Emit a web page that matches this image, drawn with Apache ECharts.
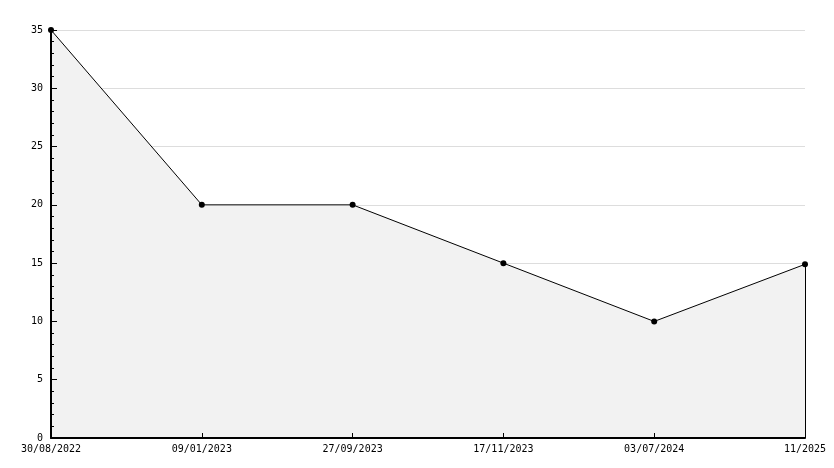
<!DOCTYPE html>
<html><head><meta charset="utf-8">
<script src="https://cdn.jsdelivr.net/npm/echarts@6/dist/echarts.min.js"></script>
<style>html,body{margin:0;padding:0;background:#fff}#c{width:834px;height:468px}</style>
</head><body><div id="c"></div>
<script>
const categories = ["30/08/2022","09/01/2023","27/09/2023","17/11/2023","03/07/2024","11/2025"];
const values = [35, 20, 20, 15, 10, 14.9];
const yTicks = {min: 0, max: 35, interval: 5};

const chart = echarts.init(document.getElementById('c'));
const font = 'DejaVu Sans Mono';
const last = categories.length - 1;
chart.setOption({
  animation: false,
  grid: {left: 51, right: 29, top: 30, bottom: 30},
  xAxis: {
    type: 'category', data: categories, boundaryGap: false, z: 10,
    axisLine: {lineStyle: {color: '#000', width: 2}},
    axisTick: {inside: true, length: 5, lineStyle: {color: '#000'}},
    axisLabel: {color: '#000', fontFamily: font, fontSize: 10, margin: 6, showMaxLabel: true, showMinLabel: true, interval: 0},
    splitLine: {show: false}
  },
  yAxis: [{
    type: 'value', min: yTicks.min, max: yTicks.max, interval: yTicks.interval, z: 0,
    axisLine: {show: false}, axisTick: {show: false},
    axisLabel: {color: '#000', fontFamily: font, fontSize: 10, margin: 8},
    splitLine: {show: true, lineStyle: {color: '#dddddd', width: 1}}
  }, {
    type: 'value', position: 'left', min: yTicks.min, max: yTicks.max, interval: yTicks.interval, z: 10,
    axisLine: {show: true, lineStyle: {color: '#000', width: 2}},
    axisTick: {show: true, inside: true, length: 6, lineStyle: {color: '#000'}},
    minorTick: {show: true, splitNumber: 5, length: 3, lineStyle: {color: '#000'}},
    axisLabel: {show: false},
    splitLine: {show: false}
  }],
  series: [{
    type: 'line', data: values, z: 12, yAxisIndex: 0,
    lineStyle: {color: '#000', width: 1},
    itemStyle: {color: '#000'},
    symbol: 'circle', symbolSize: 6, showAllSymbol: true,
    areaStyle: {color: '#f2f2f2', opacity: 0},
    markLine: {
      silent: true, symbol: 'none', label: {show: false},
      lineStyle: {color: '#000', width: 1, type: 'solid'},
      data: [[{coord: [last, 0]}, {coord: [last, values[last]]}]]
    }
  }, {
    type: 'line', data: values, z: 1, yAxisIndex: 0, symbol: 'none',
    lineStyle: {width: 0, opacity: 0},
    areaStyle: {color: '#f2f2f2', opacity: 1},
    silent: true
  }]
});
</script></body></html>
